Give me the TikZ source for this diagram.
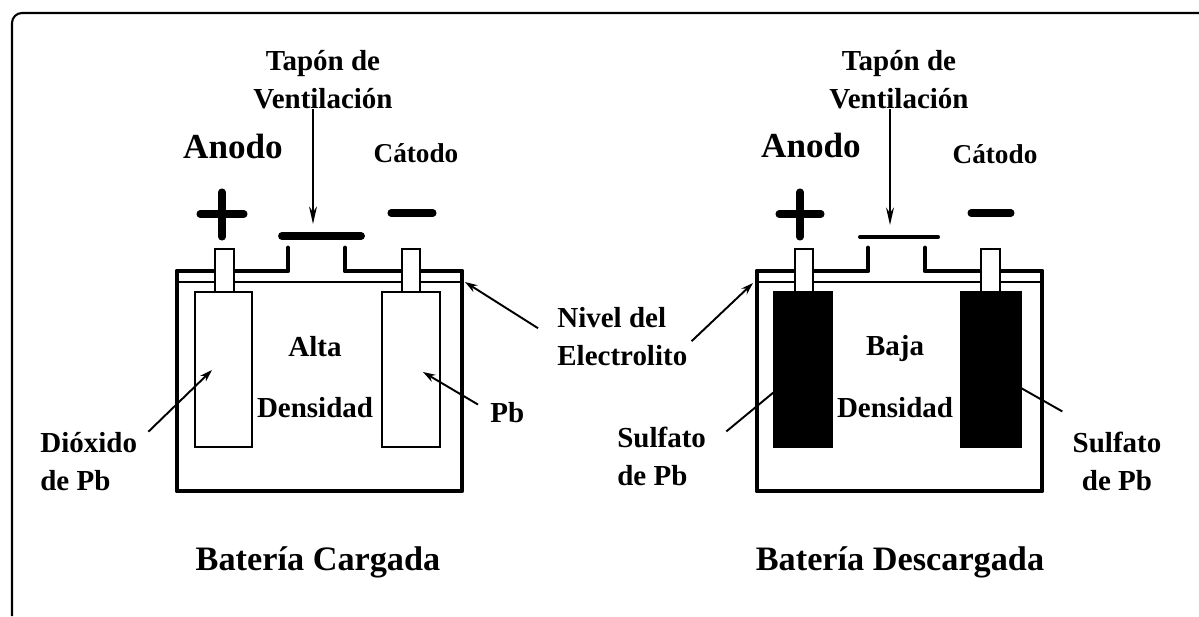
\documentclass[tikz,border=0pt]{standalone}
\usepackage{fontspec}
\setmainfont{Liberation Serif}
\usetikzlibrary{arrows.meta,calc}

\begin{document}
\begin{tikzpicture}[x=0.02cm, y=-0.02cm,
    case/.style={line width=2.8pt, line join=round, line cap=round},
    plate/.style={line width=1.3pt},
    post/.style={line width=1pt, fill=white},
    sign/.style={line width=4pt, line cap=round},
    arr/.style={line width=1.1pt, -{Stealth[length=7pt, width=4.5pt]}},
    ventarr/.style={line width=1.1pt, -{Stealth[length=10pt, width=4.5pt]}},
    lab/.style={font=\bfseries\fontsize{16.5}{21.5}\selectfont, inner sep=0pt, anchor=base}]

  \useasboundingbox (0,0) rectangle (1199,616);
  \draw[line width=1.2pt, rounded corners=2mm] (12,616) -- (12,13) -- (1199,13);

  % Bateria cargada
  \draw[case] (288,248) -- (288,271) -- (177,271) -- (177,491) -- (462,491) -- (462,271) -- (345,271) -- (345,248);
  \draw[line width=1.2pt] (177,282) -- (462,282);
  \draw[post] (215,249) rectangle (234,292);
  \draw[post] (402,249) rectangle (420,292);
  \draw[plate, fill=white] (195,292) rectangle (252,447);
  \draw[plate, fill=white] (382,292) rectangle (440,447);
  \draw[line width=4.5pt, line cap=round] (282,236) -- (361,236);
  \draw[sign] (200,214) -- (244,214) (222,192) -- (222,237);
  \draw[sign] (391,213) -- (433,213);

  \node[lab, align=center] (tapL) at (323,108) {Tapón de\\Ventilación};
  \coordinate (capL) at (313,224);
  \draw[ventarr] (tapL.south -| capL) -- (capL);

  \node[lab, font=\bfseries\fontsize{20}{24}\selectfont] (anoL) at (233,158) {Anodo};
  \node[lab, font=\bfseries\fontsize{15.5}{18}\selectfont] (catL) at (416,162) {Cátodo};
  \node[lab, align=center] (densL) at (315,417) {Alta\\[13pt]Densidad};

  \node[lab, align=left, anchor=base west] (diox) at (40,490) {Dióxido\\de Pb};
  \coordinate (dioxtip) at (212,370);
  \draw[arr] ($(diox.north east)+(11,0)$) -- (dioxtip);

  \node[lab, anchor=base west] (pb) at (490,422) {Pb};
  \coordinate (pbtip) at (423,372);
  \draw[arr] ($(pb.north west)+(-12,3)$) -- (pbtip);

  \node[lab, align=left, anchor=base west] (niv) at (557,365) {Nivel del\\Electrolito};
  \coordinate (nivLtip) at (465,282);
  \coordinate (nivRtip) at (753,283);
  \draw[arr] ($(niv.west)+(-19,-8)$) -- (nivLtip);
  \draw[arr] ($(niv.east)+(4,5)$) -- (nivRtip);

  \node[lab, font=\bfseries\fontsize{19.5}{24}\selectfont] (titL) at (318,570) {Batería Cargada};

  % Bateria descargada
  \draw[case] (868,248) -- (868,271) -- (757,271) -- (757,491) -- (1042,491) -- (1042,271) -- (925,271) -- (925,248);
  \draw[line width=1.2pt] (757,282) -- (1042,282);
  \draw[post] (795,249) rectangle (813,292);
  \draw[post] (981,249) rectangle (1000,292);
  \draw[plate, fill=black] (774,292) rectangle (832,447);
  \draw[plate, fill=black] (961,292) rectangle (1021,447);
  \draw[line width=2.3pt, line cap=round] (860,237) -- (938,237);
  \draw[sign] (779,214) -- (821,214) (800,192) -- (800,237);
  \draw[sign] (971,213) -- (1011,213);

  \node[lab, align=center] (tapR) at (899,108) {Tapón de\\Ventilación};
  \coordinate (capR) at (890,225);
  \draw[ventarr] (tapR.south -| capR) -- (capR);

  \node[lab, font=\bfseries\fontsize{20}{24}\selectfont] (anoR) at (811,157) {Anodo};
  \node[lab, font=\bfseries\fontsize{15.5}{18}\selectfont] (catR) at (995,163) {Cátodo};
  \node[lab, align=center] (densR) at (895,417) {Baja\\[13.5pt]Densidad};

  \node[lab, align=left, anchor=base west] (sulfL) at (617,485) {Sulfato\\de Pb};
  \coordinate (sulfLtip) at (774,392);
  \draw[line width=1.1pt] ($(sulfL.north east)+(20,5)$) -- (sulfLtip);

  \node[lab, align=center] (sulfR) at (1117,490) {Sulfato\\de Pb};
  \coordinate (sulfRtip) at (1021,388);
  \draw[line width=1.1pt] ($(sulfR.north west)+(-10,-20)$) -- (sulfRtip);

  \node[lab, font=\bfseries\fontsize{19.5}{24}\selectfont] (titR) at (900,570) {Batería Descargada};
\end{tikzpicture}
\end{document}
